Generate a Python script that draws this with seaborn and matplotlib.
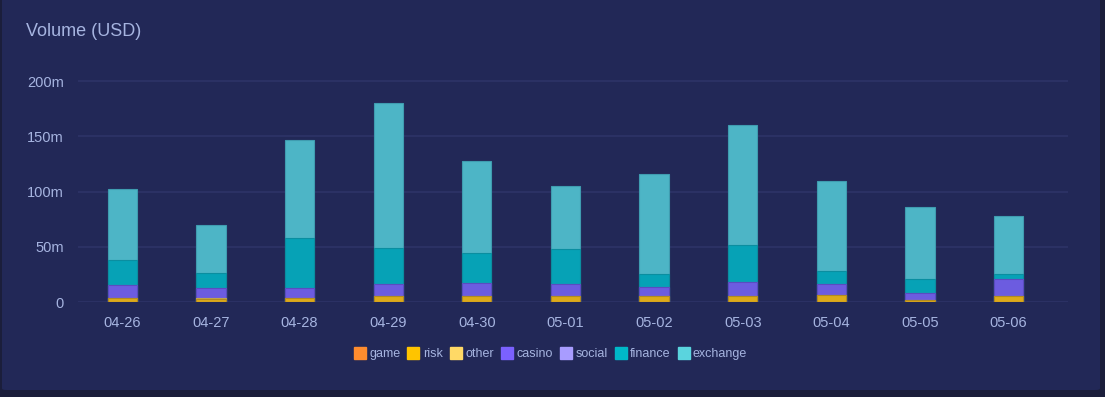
import matplotlib
matplotlib.use("Agg")
import matplotlib.pyplot as plt
from matplotlib.patches import FancyBboxPatch
from matplotlib.lines import Line2D
import numpy as np
import pandas as pd
import seaborn as sns

# 데이터 (단위: 백만 USD)
dates = ["04-26", "04-27", "04-28", "04-29", "04-30", "05-01",
         "05-02", "05-03", "05-04", "05-05", "05-06"]
game = [0.0, 0.0, 0.0, 0.0, 0.0, 0.0, 0.0, 0.0, 0.0, 0.0, 0.0]
risk = [3.5, 3.0, 3.5, 5.0, 5.0, 5.0, 5.0, 5.5, 6.0, 2.0, 5.5]
other = [0.3, 1.0, 0.5, 0.3, 0.2, 0.3, 0.2, 0.3, 0.3, 0.2, 0.2]
casino = [11.5, 8.5, 8.5, 10.6, 12.0, 10.6, 8.6, 12.7, 10.0, 6.0, 15.0]
social = [0.0, 0.0, 0.0, 0.0, 0.0, 0.0, 0.0, 0.0, 0.0, 0.0, 0.0]
finance = [23.0, 14.0, 45.0, 33.0, 27.0, 32.0, 11.4, 33.0, 12.0, 13.0, 5.0]
exchange = [64.0, 43.5, 89.5, 131.0, 83.6, 57.0, 91.0, 108.6, 81.5, 65.0, 52.0]

names = ["game", "risk", "other", "casino", "social", "finance", "exchange"]
series = [game, risk, other, casino, social, finance, exchange]
bar_colors = ["#e8802e", "#dcaa1a", "#f0cf60", "#6c5ce0", "#9d8ff0", "#06a2b6", "#4db5c6"]
edge_colors = ["#b86a2e", "#b08a22", "#c0a550", "#5a4cc0", "#8070d0", "#0a8ea0", "#3f9cb0"]
legend_colors = ["#ff8c2e", "#ffc400", "#ffd966", "#7b61ff", "#a89cff", "#00b8c8", "#5ad4de"]

BG_OUT = "#1b1e3b"
BG_CARD = "#222857"
TXT = "#a6b4e0"
GRID = "#2e3467"

plt.rcParams["font.family"] = ["Liberation Sans", "DejaVu Sans"]

df = pd.DataFrame(dict(zip(names, series)), index=dates)
cum = df.cumsum(axis=1)

fig = plt.figure(figsize=(11.05, 3.97), dpi=100, facecolor=BG_OUT)
card = FancyBboxPatch((2 / 1105, 7 / 397), 1098 / 1105, 392 / 397,
                      boxstyle="round,pad=0,rounding_size=0.004",
                      transform=fig.transFigure, facecolor=BG_CARD,
                      edgecolor="none", zorder=-5)
fig.patches.append(card)

ax = fig.add_axes([78 / 1105, 95 / 397, 990 / 1105, 232 / 397])
ax.set_facecolor("none")
ax.set_zorder(2)

# 누적 합계를 위에서부터 겹쳐 그려 스택 막대 표현
for i in range(len(names) - 1, -1, -1):
    col = names[i]
    sns.barplot(x=dates, y=cum[col].values, color=bar_colors[i], ax=ax,
                width=0.33, edgecolor=edge_colors[i], linewidth=0.8,
                saturation=1, zorder=3)

ax.set_xlim(-0.5, 10.67)
ax.set_ylim(0, 210)
ax.set_yticks([0, 50, 100, 150, 200])
ax.set_yticklabels(["0", "50m", "100m", "150m", "200m"])
ax.grid(axis="y", color=GRID, linewidth=1.2, zorder=0)
ax.grid(axis="x", visible=False)
ax.set_axisbelow(True)
for s in ax.spines.values():
    s.set_visible(False)
ax.tick_params(axis="both", length=0, colors=TXT, labelsize=10.5)
ax.tick_params(axis="y", pad=10)
ax.tick_params(axis="x", pad=10)
ax.set_xlabel("")
ax.set_ylabel("")

fig.text(26 / 1105, 1 - 31 / 397, "Volume (USD)", color=TXT, fontsize=13,
         ha="left", va="center")

handles = [Line2D([0], [0], marker="s", linestyle="none", markersize=8,
                  markerfacecolor=c, markeredgecolor=c) for c in legend_colors]
fig.legend(handles, names, loc="center", bbox_to_anchor=(551 / 1105, 1 - 354 / 397),
           ncol=7, frameon=False, fontsize=9, labelcolor=TXT,
           handletextpad=0.35, columnspacing=0.65, handlelength=0.8)

fig.savefig("out.png", dpi=100, facecolor=BG_OUT)
